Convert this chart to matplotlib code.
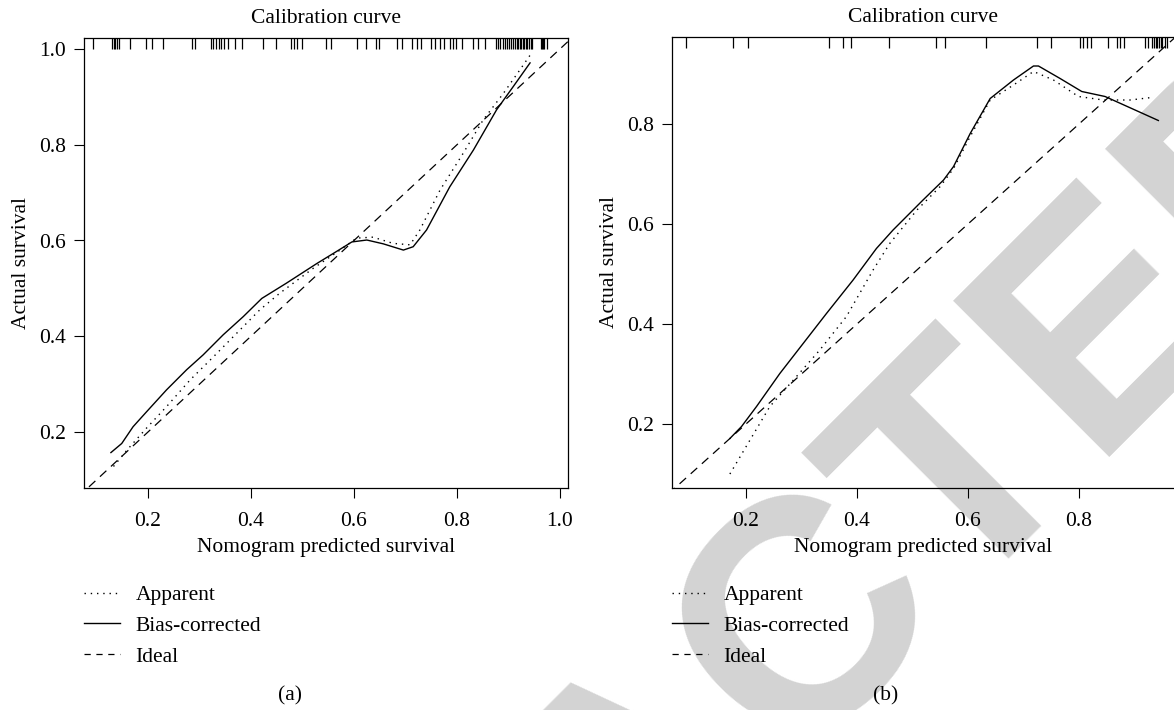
import numpy as np
import matplotlib
matplotlib.use('Agg')
import matplotlib.pyplot as plt
from matplotlib.lines import Line2D

plt.rcParams['font.family'] = 'Liberation Serif'
plt.rcParams['font.size'] = 15.5

# ---- panel (a) ----
a_app_x = [0.133, 0.159, 0.197, 0.236, 0.282, 0.327, 0.372, 0.417, 0.456, 0.521, 0.573,
           0.605, 0.637, 0.676, 0.709, 0.728, 0.767, 0.812, 0.851, 0.890, 0.922, 0.942]
a_app_y = [0.128, 0.162, 0.208, 0.253, 0.309, 0.357, 0.406, 0.455, 0.490, 0.542, 0.580,
           0.605, 0.607, 0.594, 0.591, 0.622, 0.705, 0.782, 0.852, 0.907, 0.956, 0.987]
a_bc_x = [0.128, 0.149, 0.171, 0.197, 0.236, 0.275, 0.307, 0.346, 0.385, 0.421, 0.469, 0.528,
          0.566, 0.596, 0.625, 0.657, 0.696, 0.715, 0.741, 0.786, 0.832, 0.877, 0.909, 0.942]
a_bc_y = [0.157, 0.176, 0.211, 0.242, 0.288, 0.330, 0.361, 0.403, 0.441, 0.479, 0.511, 0.552,
          0.577, 0.597, 0.601, 0.593, 0.580, 0.587, 0.622, 0.712, 0.789, 0.873, 0.921, 0.971]
a_rug = [0.094, 0.130, 0.133, 0.136, 0.139, 0.144, 0.166, 0.197, 0.207, 0.230, 0.285, 0.291,
         0.322, 0.327, 0.332, 0.337, 0.342, 0.348, 0.356, 0.369, 0.382, 0.423, 0.449, 0.477,
         0.483, 0.490, 0.500, 0.546, 0.555, 0.606, 0.623, 0.643, 0.649, 0.683, 0.693, 0.712,
         0.722, 0.730, 0.749, 0.757, 0.768, 0.775, 0.786, 0.793, 0.799, 0.809, 0.832, 0.841,
         0.854, 0.876, 0.880, 0.884, 0.889, 0.893, 0.897, 0.901, 0.905, 0.909, 0.912, 0.916,
         0.919, 0.922, 0.925, 0.928, 0.931, 0.934, 0.937, 0.940, 0.943, 0.946, 0.964, 0.966,
         0.968, 0.970, 0.975]
a_ticks = [0.2, 0.4, 0.6, 0.8, 1.0]
a_yticks = [0.2, 0.4, 0.6, 0.8, 1.0]

# ---- panel (b) ----
b_app_x = [0.171, 0.243, 0.291, 0.333, 0.381, 0.429, 0.459, 0.508, 0.550, 0.574, 0.604,
           0.640, 0.682, 0.718, 0.754, 0.799, 0.844, 0.892, 0.931]
b_app_y = [0.100, 0.235, 0.295, 0.348, 0.415, 0.508, 0.561, 0.628, 0.675, 0.711, 0.775,
           0.848, 0.878, 0.905, 0.888, 0.855, 0.848, 0.848, 0.853]
b_bc_x = [0.171, 0.192, 0.219, 0.261, 0.303, 0.345, 0.393, 0.435, 0.465, 0.519, 0.556,
          0.574, 0.604, 0.640, 0.682, 0.718, 0.727, 0.766, 0.805, 0.847, 0.943]
b_bc_y = [0.171, 0.195, 0.235, 0.301, 0.361, 0.421, 0.488, 0.551, 0.588, 0.648, 0.688,
          0.715, 0.781, 0.851, 0.888, 0.916, 0.916, 0.891, 0.865, 0.855, 0.807]
b_rug = [0.092, 0.176, 0.204, 0.350, 0.374, 0.390, 0.458, 0.542, 0.559, 0.632, 0.725,
         0.750, 0.802, 0.808, 0.814, 0.821, 0.853, 0.868, 0.874, 0.881, 0.919, 0.925,
         0.932, 0.935, 0.938, 0.941, 0.944, 0.947, 0.950, 0.955, 0.959]
b_ticks = [0.2, 0.4, 0.6, 0.8]
b_yticks = [0.2, 0.4, 0.6, 0.8]

ideal = [0.0, 1.1]
legend_labels = ['Apparent', 'Bias-corrected', 'Ideal']

W, H = 1174.0, 710.0
fig = plt.figure(figsize=(W / 100, H / 100), dpi=100)


def px_axes(l, t, r, b):
    return fig.add_axes([l / W, 1 - b / H, (r - l) / W, (b - t) / H])


def panel(ax, app_x, app_y, bc_x, bc_y, rug, xt, yt, xlim, ylim):
    ax.set_facecolor('none')
    ax.plot(ideal, ideal, color='black', lw=0.9, ls=(0, (7, 5)))
    ax.plot(app_x, app_y, color='black', lw=1.0, ls=(0, (1, 3.5)))
    ax.plot(bc_x, bc_y, color='black', lw=1.0, ls='-')
    ax.vlines(rug, 0.976, 1.0, transform=ax.get_xaxis_transform(), color='black', lw=0.9)
    ax.set_xlim(xlim)
    ax.set_ylim(ylim)
    ax.set_xticks(xt)
    ax.set_xticklabels(['%.1f' % v for v in xt])
    ax.set_yticks(yt)
    ax.set_yticklabels(['%.1f' % v for v in yt])
    ax.tick_params(direction='out', length=7, width=0.8, pad=6)
    ax.tick_params(axis='x', pad=10)
    for s in ax.spines.values():
        s.set_linewidth(0.9)
    ax.set_title('Calibration curve', fontsize=15.5, pad=11)
    ax.set_xlabel('Nomogram predicted survival', labelpad=5)
    ax.set_ylabel('Actual survival', labelpad=6)
    handles = [Line2D([], [], color='black', lw=1.0, ls=(0, (1, 3.5))),
               Line2D([], [], color='black', lw=1.0, ls='-'),
               Line2D([], [], color='black', lw=0.9, ls=(0, (5, 4.5)))]
    return handles


ax1 = px_axes(84, 38, 568, 488)
ax2 = px_axes(672, 37, 1175, 488)

h = panel(ax1, a_app_x, a_app_y, a_bc_x, a_bc_y, a_rug, a_ticks, a_yticks,
          (0.0757, 1.0157), (0.083, 1.023))
panel(ax2, b_app_x, b_app_y, b_bc_x, b_bc_y, b_rug, b_ticks, b_yticks,
      (0.0667, 0.973), (0.072, 0.974))

for x0 in (84, 672):
    fig.legend(h, legend_labels, loc='upper left', bbox_to_anchor=(x0 / W, 1 - 585 / H),
               frameon=False, borderpad=0, borderaxespad=0, handlelength=1.65,
               handletextpad=0.75, labelspacing=0.5)

fig.text(290 / W, 1 - 696 / H, '(a)', ha='center', va='center')
fig.text(886 / W, 1 - 696 / H, '(b)', ha='center', va='center')

# watermark
fig.text(0 / W, 1 - 1545 / H, 'RETRACTED', fontsize=232, color='#d3d3d3',
         fontweight='bold', family='Liberation Sans',
         rotation=45, ha='left', va='baseline', rotation_mode='anchor', zorder=-5)

fig.savefig('out.png', dpi=100)
